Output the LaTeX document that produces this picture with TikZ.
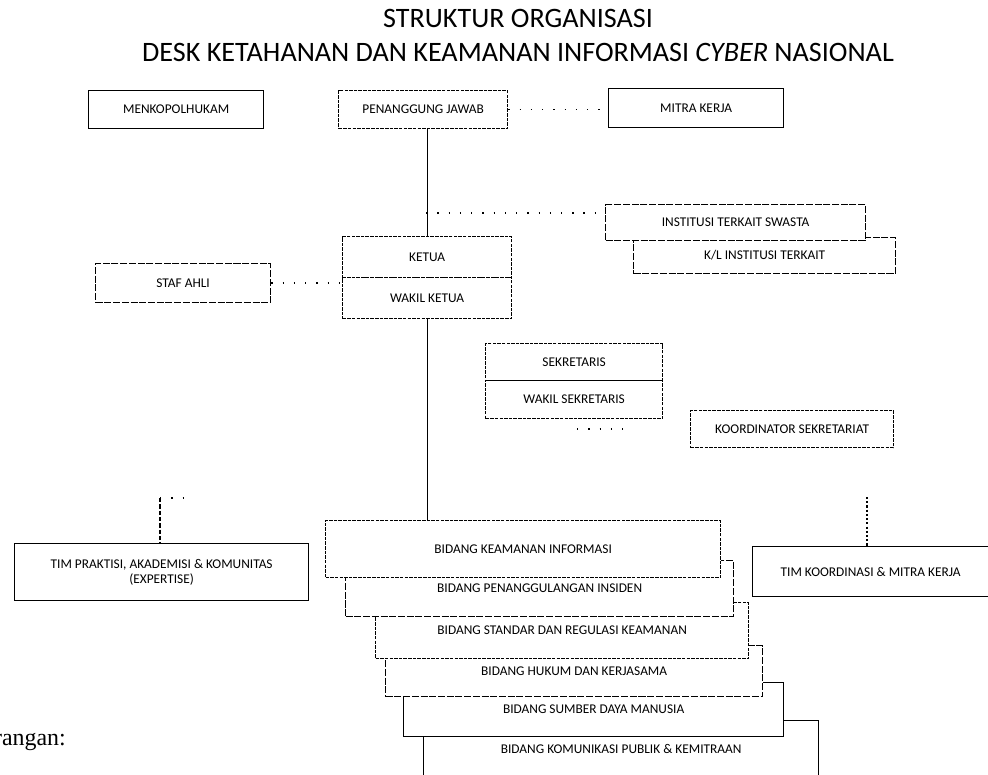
\documentclass[tikz,border=0pt]{standalone}
\usepackage{fontspec}
\setmainfont{Carlito}
\newfontfamily\ketfont{Liberation Serif}
\usetikzlibrary{positioning}
\newcommand{\pxu}{0.025cm}
\tikzstyle{unit} = [rectangle, anchor=north west, inner sep=0pt, text centered, draw=black, fill=white, line width=0.9pt, font=\fontsize{9.5}{11}\selectfont]
\tikzstyle{dashunit} = [unit, dash pattern=on 5pt off 1.2pt]
\tikzstyle{dotunit} = [unit, dash pattern=on 2.5pt off 0.8pt]
\tikzstyle{judul} = [anchor=base, inner sep=0pt, font=\fontsize{20}{23}\selectfont]
\tikzstyle{line} = [line width=0.9pt]
\tikzstyle{dotline} = [line width=1pt, dash pattern=on 1pt off 7pt]

\begin{document}
\begin{tikzpicture}[x=\pxu, y=-\pxu]
	\useasboundingbox (0,0) rectangle (988,775);

	% judul
	\node (title1) [judul] at (518,28) {STRUKTUR ORGANISASI};
	\node (title2) [judul] at (518,62) {DESK KETAHANAN DAN KEAMANAN INFORMASI \textit{CYBER} NASIONAL};

	% baris atas
	\node (menko) [unit, minimum width=175*\pxu, minimum height=38*\pxu] at (88,90) {MENKOPOLHUKAM};
	\node (pj) [dotunit, minimum width=169*\pxu, minimum height=38*\pxu] at (338,90) {PENANGGUNG JAWAB};
	\node (mitra) [unit, minimum width=175*\pxu, minimum height=39*\pxu] at (608,88) {MITRA KERJA};

	% institusi
	\node (inst2) [dashunit, minimum width=262*\pxu, minimum height=36*\pxu] at (633,237) {K/L INSTITUSI TERKAIT};
	\node (inst1) [dashunit, minimum width=260*\pxu, minimum height=36*\pxu] at (605,204) {INSTITUSI TERKAIT SWASTA};

	% ketua
	\node (stafahli) [dashunit, minimum width=175*\pxu, minimum height=39*\pxu] at (95,263) {STAF AHLI};
	\node (ketua) [dotunit, minimum width=169*\pxu, minimum height=41*\pxu] at (342,236) {KETUA};
	\node (wakil) [dotunit, minimum width=169*\pxu, minimum height=41*\pxu] at (342,277) {WAKIL KETUA};

	% sekretaris
	\node (sekre) [dotunit, minimum width=177*\pxu, minimum height=37*\pxu] at (485,343) {SEKRETARIS};
	\node (wasekre) [dotunit, minimum width=177*\pxu, minimum height=38*\pxu] at (485,380) {WAKIL SEKRETARIS};
	\node (koord) [dotunit, minimum width=203*\pxu, minimum height=37*\pxu] at (690,410) {KOORDINATOR SEKRETARIAT};

	% tim
	\node (timpakar) [unit, align=center, minimum width=294*\pxu, minimum height=57*\pxu] at (14,543) {TIM PRAKTISI, AKADEMISI \& KOMUNITAS\\(EXPERTISE)};
	\node (timkoord) [unit, minimum width=236*\pxu, minimum height=50*\pxu] at (752,546) {TIM KOORDINASI \& MITRA KERJA};

	% bidang (dari belakang ke depan)
	\node (bid6) [unit, minimum width=395*\pxu, minimum height=56*\pxu] at (423,720) {BIDANG KOMUNIKASI PUBLIK \& KEMITRAAN};
	\node (bid5) [unit, minimum width=380*\pxu, minimum height=54*\pxu] at (403,682) {BIDANG SUMBER DAYA MANUSIA};
	\node (bid4) [dashunit, minimum width=377*\pxu, minimum height=51*\pxu] at (385,645) {BIDANG HUKUM DAN KERJASAMA};
	\node (bid3) [dotunit, minimum width=373*\pxu, minimum height=56*\pxu] at (375,602) {BIDANG STANDAR DAN REGULASI KEAMANAN};
	\node (bid2) [dashunit, minimum width=388*\pxu, minimum height=56*\pxu] at (345,560) {BIDANG PENANGGULANGAN INSIDEN};
	\node (bid1) [dotunit, minimum width=395*\pxu, minimum height=57*\pxu] at (325,520) {BIDANG KEAMANAN INFORMASI};

	% garis
	\coordinate (j1) at (426,213);
	\coordinate (j2) at (577,429);
	\coordinate (j2e) at (630,429);
	\coordinate (j3) at (160,498);
	\coordinate (j3e) at (186,498);
	\coordinate (j4) at (867,497);

	\draw [line] (ketua.north) -- (ketua.north |- pj.south);
	\draw [line] (wakil.south) -- (wakil.south |- bid1.north);
	\draw [dotline] (pj.east) -- (pj.east -| mitra.west);
	\draw [dotline] (j1) -- (j1 -| inst1.west);
	\draw [dotline] (stafahli.east) -- (stafahli.east -| ketua.west);
	\draw [dotline] (j2) -- (j2e);
	\draw [line, dash pattern=on 3pt off 1.5pt] (j3) -- (j3 |- timpakar.north);
	\draw [dotline] (j3) -- (j3e);
	\draw [line, dash pattern=on 1.5pt off 1.5pt] (j4) -- (j4 |- timkoord.north);

	\node (ket) [anchor=base east, inner sep=0pt, font=\ketfont\fontsize{17}{19}\selectfont] at (66,745) {Keterangan:};

\end{tikzpicture}
\end{document}
